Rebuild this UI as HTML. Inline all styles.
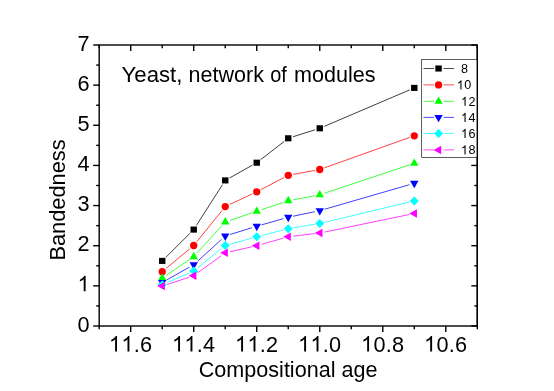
<!DOCTYPE html>
<html><head><meta charset="utf-8"><title>Bandedness</title>
<style>
html,body{margin:0;padding:0;background:#fff;}
body{width:554px;height:391px;overflow:hidden;}
svg{display:block;transform:translateZ(0);will-change:transform;font-family:"Liberation Sans",sans-serif;}
</style></head><body>
<svg width="554" height="391" viewBox="0 0 554 391">
<rect x="0" y="0" width="554" height="391" fill="#ffffff"/>
<g stroke="#000" stroke-width="1.4" fill="none" stroke-linecap="butt">
<rect x="99.2" y="45.0" width="378.1" height="281.0"/>
<line x1="93.2" y1="326.00" x2="99.2" y2="326.00"/>
<line x1="471.3" y1="326.00" x2="477.3" y2="326.00"/>
<line x1="96.2" y1="305.93" x2="99.2" y2="305.93"/>
<line x1="474.3" y1="305.93" x2="477.3" y2="305.93"/>
<line x1="93.2" y1="285.86" x2="99.2" y2="285.86"/>
<line x1="471.3" y1="285.86" x2="477.3" y2="285.86"/>
<line x1="96.2" y1="265.79" x2="99.2" y2="265.79"/>
<line x1="474.3" y1="265.79" x2="477.3" y2="265.79"/>
<line x1="93.2" y1="245.71" x2="99.2" y2="245.71"/>
<line x1="471.3" y1="245.71" x2="477.3" y2="245.71"/>
<line x1="96.2" y1="225.64" x2="99.2" y2="225.64"/>
<line x1="474.3" y1="225.64" x2="477.3" y2="225.64"/>
<line x1="93.2" y1="205.57" x2="99.2" y2="205.57"/>
<line x1="471.3" y1="205.57" x2="477.3" y2="205.57"/>
<line x1="96.2" y1="185.50" x2="99.2" y2="185.50"/>
<line x1="474.3" y1="185.50" x2="477.3" y2="185.50"/>
<line x1="93.2" y1="165.43" x2="99.2" y2="165.43"/>
<line x1="471.3" y1="165.43" x2="477.3" y2="165.43"/>
<line x1="96.2" y1="145.36" x2="99.2" y2="145.36"/>
<line x1="474.3" y1="145.36" x2="477.3" y2="145.36"/>
<line x1="93.2" y1="125.29" x2="99.2" y2="125.29"/>
<line x1="471.3" y1="125.29" x2="477.3" y2="125.29"/>
<line x1="96.2" y1="105.21" x2="99.2" y2="105.21"/>
<line x1="474.3" y1="105.21" x2="477.3" y2="105.21"/>
<line x1="93.2" y1="85.14" x2="99.2" y2="85.14"/>
<line x1="471.3" y1="85.14" x2="477.3" y2="85.14"/>
<line x1="96.2" y1="65.07" x2="99.2" y2="65.07"/>
<line x1="474.3" y1="65.07" x2="477.3" y2="65.07"/>
<line x1="93.2" y1="45.00" x2="99.2" y2="45.00"/>
<line x1="471.3" y1="45.00" x2="477.3" y2="45.00"/>
<line x1="99.20" y1="326.0" x2="99.20" y2="329.3"/>
<line x1="99.20" y1="45.0" x2="99.20" y2="48.3"/>
<line x1="130.71" y1="326.0" x2="130.71" y2="332.0"/>
<line x1="130.71" y1="45.0" x2="130.71" y2="51.0"/>
<line x1="162.22" y1="326.0" x2="162.22" y2="329.3"/>
<line x1="162.22" y1="45.0" x2="162.22" y2="48.3"/>
<line x1="193.73" y1="326.0" x2="193.73" y2="332.0"/>
<line x1="193.73" y1="45.0" x2="193.73" y2="51.0"/>
<line x1="225.23" y1="326.0" x2="225.23" y2="329.3"/>
<line x1="225.23" y1="45.0" x2="225.23" y2="48.3"/>
<line x1="256.74" y1="326.0" x2="256.74" y2="332.0"/>
<line x1="256.74" y1="45.0" x2="256.74" y2="51.0"/>
<line x1="288.25" y1="326.0" x2="288.25" y2="329.3"/>
<line x1="288.25" y1="45.0" x2="288.25" y2="48.3"/>
<line x1="319.76" y1="326.0" x2="319.76" y2="332.0"/>
<line x1="319.76" y1="45.0" x2="319.76" y2="51.0"/>
<line x1="351.27" y1="326.0" x2="351.27" y2="329.3"/>
<line x1="351.27" y1="45.0" x2="351.27" y2="48.3"/>
<line x1="382.78" y1="326.0" x2="382.78" y2="332.0"/>
<line x1="382.78" y1="45.0" x2="382.78" y2="51.0"/>
<line x1="414.28" y1="326.0" x2="414.28" y2="329.3"/>
<line x1="414.28" y1="45.0" x2="414.28" y2="48.3"/>
<line x1="445.79" y1="326.0" x2="445.79" y2="332.0"/>
<line x1="445.79" y1="45.0" x2="445.79" y2="51.0"/>
<line x1="477.30" y1="326.0" x2="477.30" y2="329.3"/>
<line x1="477.30" y1="45.0" x2="477.30" y2="48.3"/>
</g>
<g fill="#000">
<text x="77.53" y="331.50" font-size="21.7">0</text>
<path transform="translate(77.53,291.36) scale(0.01060,-0.01060)" d="M763 0H583V1147Q518 1085 412.5 1023T223 930V1104Q374 1175 487 1276T647 1472H763Z"/>
<text x="77.53" y="251.21" font-size="21.7">2</text>
<text x="77.53" y="211.07" font-size="21.7">3</text>
<text x="77.53" y="170.93" font-size="21.7">4</text>
<text x="77.53" y="130.79" font-size="21.7">5</text>
<text x="77.53" y="90.64" font-size="21.7">6</text>
<text x="77.53" y="50.50" font-size="21.7">7</text>
<path transform="translate(108.92,351.50) scale(0.01060,-0.01060)" d="M763 0H583V1147Q518 1085 412.5 1023T223 930V1104Q374 1175 487 1276T647 1472H763Z"/><path transform="translate(121.32,351.50) scale(0.01060,-0.01060)" d="M763 0H583V1147Q518 1085 412.5 1023T223 930V1104Q374 1175 487 1276T647 1472H763Z"/><text x="133.71" y="351.50" font-size="21.7">.</text><text x="139.90" y="351.50" font-size="21.7">6</text>
<path transform="translate(171.94,351.50) scale(0.01060,-0.01060)" d="M763 0H583V1147Q518 1085 412.5 1023T223 930V1104Q374 1175 487 1276T647 1472H763Z"/><path transform="translate(184.33,351.50) scale(0.01060,-0.01060)" d="M763 0H583V1147Q518 1085 412.5 1023T223 930V1104Q374 1175 487 1276T647 1472H763Z"/><text x="196.72" y="351.50" font-size="21.7">.</text><text x="202.92" y="351.50" font-size="21.7">4</text>
<path transform="translate(234.96,351.50) scale(0.01060,-0.01060)" d="M763 0H583V1147Q518 1085 412.5 1023T223 930V1104Q374 1175 487 1276T647 1472H763Z"/><path transform="translate(247.35,351.50) scale(0.01060,-0.01060)" d="M763 0H583V1147Q518 1085 412.5 1023T223 930V1104Q374 1175 487 1276T647 1472H763Z"/><text x="259.74" y="351.50" font-size="21.7">.</text><text x="265.93" y="351.50" font-size="21.7">2</text>
<path transform="translate(297.97,351.50) scale(0.01060,-0.01060)" d="M763 0H583V1147Q518 1085 412.5 1023T223 930V1104Q374 1175 487 1276T647 1472H763Z"/><path transform="translate(310.37,351.50) scale(0.01060,-0.01060)" d="M763 0H583V1147Q518 1085 412.5 1023T223 930V1104Q374 1175 487 1276T647 1472H763Z"/><text x="322.76" y="351.50" font-size="21.7">.</text><text x="328.95" y="351.50" font-size="21.7">0</text>
<path transform="translate(360.99,351.50) scale(0.01060,-0.01060)" d="M763 0H583V1147Q518 1085 412.5 1023T223 930V1104Q374 1175 487 1276T647 1472H763Z"/><text x="373.38" y="351.50" font-size="21.7">0</text><text x="385.77" y="351.50" font-size="21.7">.</text><text x="391.97" y="351.50" font-size="21.7">8</text>
<path transform="translate(424.01,351.50) scale(0.01060,-0.01060)" d="M763 0H583V1147Q518 1085 412.5 1023T223 930V1104Q374 1175 487 1276T647 1472H763Z"/><text x="436.40" y="351.50" font-size="21.7">0</text><text x="448.79" y="351.50" font-size="21.7">.</text><text x="454.98" y="351.50" font-size="21.7">6</text>
</g>
<g font-size="22.4" lengthAdjust="spacingAndGlyphs"><text x="121.6" y="81.6" textLength="60.8" lengthAdjust="spacingAndGlyphs">Yeast,</text><text x="188.6" y="81.6" textLength="75.3" lengthAdjust="spacingAndGlyphs">network</text><text x="270.2" y="81.6" textLength="16.6" lengthAdjust="spacingAndGlyphs">of</text><text x="294.1" y="81.6" textLength="81.4" lengthAdjust="spacingAndGlyphs">modules</text></g>
<text x="198.8" y="377" font-size="22.3" textLength="178.6" lengthAdjust="spacingAndGlyphs">Compositional age</text>
<text transform="translate(64.7,260.6) rotate(-90)" font-size="22.3" textLength="121.3" lengthAdjust="spacingAndGlyphs">Bandedness</text>
<g stroke="#000000" stroke-width="0.75" fill="none">
<line x1="165.76" y1="257.38" x2="190.18" y2="233.12"/>
<line x1="196.42" y1="225.39" x2="222.54" y2="184.61"/>
<line x1="229.59" y1="177.95" x2="252.38" y2="165.15"/>
<line x1="260.69" y1="159.64" x2="284.30" y2="141.36"/>
<line x1="293.02" y1="136.79" x2="314.99" y2="129.81"/>
<line x1="324.36" y1="126.33" x2="409.69" y2="89.87"/>
</g>
<g>
<rect x="159.02" y="257.85" width="6.4" height="6.1" fill="#000000"/>
<rect x="190.52" y="226.55" width="6.4" height="6.1" fill="#000000"/>
<rect x="222.03" y="177.35" width="6.4" height="6.1" fill="#000000"/>
<rect x="253.54" y="159.65" width="6.4" height="6.1" fill="#000000"/>
<rect x="285.05" y="135.25" width="6.4" height="6.1" fill="#000000"/>
<rect x="316.56" y="125.25" width="6.4" height="6.1" fill="#000000"/>
<rect x="411.08" y="84.85" width="6.4" height="6.1" fill="#000000"/>
</g>
<g stroke="#ff0000" stroke-width="0.75" fill="none">
<line x1="166.06" y1="268.46" x2="189.88" y2="248.69"/>
<line x1="196.87" y1="241.61" x2="222.09" y2="210.49"/>
<line x1="229.76" y1="204.47" x2="252.22" y2="193.93"/>
<line x1="261.17" y1="189.48" x2="283.82" y2="177.62"/>
<line x1="293.17" y1="174.39" x2="314.84" y2="170.41"/>
<line x1="324.47" y1="167.82" x2="409.57" y2="137.48"/>
</g>
<g>
<circle cx="162.22" cy="271.65" r="3.65" fill="#ff0000"/>
<circle cx="193.72" cy="245.50" r="3.65" fill="#ff0000"/>
<circle cx="225.23" cy="206.60" r="3.65" fill="#ff0000"/>
<circle cx="256.74" cy="191.80" r="3.65" fill="#ff0000"/>
<circle cx="288.25" cy="175.30" r="3.65" fill="#ff0000"/>
<circle cx="319.76" cy="169.50" r="3.65" fill="#ff0000"/>
<circle cx="414.28" cy="135.80" r="3.65" fill="#ff0000"/>
</g>
<g stroke="#00ff00" stroke-width="0.75" fill="none">
<line x1="166.36" y1="275.25" x2="189.59" y2="259.50"/>
<line x1="197.08" y1="252.99" x2="221.88" y2="225.61"/>
<line x1="229.97" y1="220.31" x2="252.00" y2="212.89"/>
<line x1="261.48" y1="209.71" x2="283.51" y2="202.34"/>
<line x1="293.16" y1="199.82" x2="314.85" y2="195.73"/>
<line x1="324.50" y1="193.22" x2="409.54" y2="164.88"/>
</g>
<g>
<polygon points="162.22,273.15 166.42,280.55 158.02,280.55" fill="#00ff00"/>
<polygon points="193.72,251.80 197.92,259.20 189.52,259.20" fill="#00ff00"/>
<polygon points="225.23,217.00 229.43,224.40 221.03,224.40" fill="#00ff00"/>
<polygon points="256.74,206.40 260.94,213.80 252.54,213.80" fill="#00ff00"/>
<polygon points="288.25,195.85 292.45,203.25 284.05,203.25" fill="#00ff00"/>
<polygon points="319.76,189.90 323.96,197.30 315.56,197.30" fill="#00ff00"/>
<polygon points="414.28,158.40 418.48,165.80 410.08,165.80" fill="#00ff00"/>
</g>
<g stroke="#0000ff" stroke-width="0.75" fill="none">
<line x1="166.58" y1="280.00" x2="189.37" y2="267.20"/>
<line x1="197.42" y1="261.38" x2="221.54" y2="239.37"/>
<line x1="230.01" y1="234.52" x2="251.97" y2="227.73"/>
<line x1="261.55" y1="224.88" x2="283.44" y2="218.62"/>
<line x1="293.14" y1="216.22" x2="314.86" y2="211.68"/>
<line x1="324.56" y1="209.26" x2="409.48" y2="184.69"/>
</g>
<g>
<polygon points="162.22,287.35 166.42,279.95 158.02,279.95" fill="#0000ff"/>
<polygon points="193.72,269.65 197.92,262.25 189.52,262.25" fill="#0000ff"/>
<polygon points="225.23,240.90 229.43,233.50 221.03,233.50" fill="#0000ff"/>
<polygon points="256.74,231.15 260.94,223.75 252.54,223.75" fill="#0000ff"/>
<polygon points="288.25,222.15 292.45,214.75 284.05,214.75" fill="#0000ff"/>
<polygon points="319.76,215.55 323.96,208.15 315.56,208.15" fill="#0000ff"/>
<polygon points="414.28,188.20 418.48,180.80 410.08,180.80" fill="#0000ff"/>
</g>
<g stroke="#00ffff" stroke-width="0.75" fill="none">
<line x1="166.81" y1="282.67" x2="189.13" y2="273.08"/>
<line x1="197.61" y1="267.95" x2="221.35" y2="248.65"/>
<line x1="230.05" y1="244.17" x2="251.92" y2="238.13"/>
<line x1="261.59" y1="235.56" x2="283.41" y2="229.99"/>
<line x1="293.18" y1="227.92" x2="314.83" y2="224.28"/>
<line x1="324.62" y1="222.29" x2="409.42" y2="202.06"/>
</g>
<g>
<polygon points="157.72,284.65 162.22,280.15 166.72,284.65 162.22,289.15" fill="#00ffff"/>
<polygon points="189.22,271.10 193.72,266.60 198.22,271.10 193.72,275.60" fill="#00ffff"/>
<polygon points="220.73,245.50 225.23,241.00 229.73,245.50 225.23,250.00" fill="#00ffff"/>
<polygon points="252.24,236.80 256.74,232.30 261.24,236.80 256.74,241.30" fill="#00ffff"/>
<polygon points="283.75,228.75 288.25,224.25 292.75,228.75 288.25,233.25" fill="#00ffff"/>
<polygon points="315.26,223.45 319.76,218.95 324.26,223.45 319.76,227.95" fill="#00ffff"/>
<polygon points="409.78,200.90 414.28,196.40 418.78,200.90 414.28,205.40" fill="#00ffff"/>
</g>
<g stroke="#ff00ff" stroke-width="0.75" fill="none">
<line x1="166.96" y1="284.53" x2="188.98" y2="277.27"/>
<line x1="197.77" y1="272.76" x2="221.19" y2="255.79"/>
<line x1="230.11" y1="251.74" x2="251.87" y2="246.81"/>
<line x1="261.55" y1="244.33" x2="283.44" y2="238.12"/>
<line x1="293.22" y1="236.17" x2="314.79" y2="233.63"/>
<line x1="324.65" y1="232.04" x2="409.39" y2="214.51"/>
</g>
<g>
<polygon points="157.22,286.10 164.87,281.85 164.87,290.35" fill="#ff00ff"/>
<polygon points="188.72,275.70 196.37,271.45 196.37,279.95" fill="#ff00ff"/>
<polygon points="220.23,252.85 227.88,248.60 227.88,257.10" fill="#ff00ff"/>
<polygon points="251.74,245.70 259.39,241.45 259.39,249.95" fill="#ff00ff"/>
<polygon points="283.25,236.75 290.90,232.50 290.90,241.00" fill="#ff00ff"/>
<polygon points="314.76,233.05 322.41,228.80 322.41,237.30" fill="#ff00ff"/>
<polygon points="409.28,213.50 416.93,209.25 416.93,217.75" fill="#ff00ff"/>
</g>
<rect x="421.7" y="59.5" width="55.6" height="97.9" fill="#fff" stroke="#000" stroke-width="0.64"/>
<g fill="#000">
<g stroke="#000000" stroke-width="0.7"><line x1="423.5" y1="68.5" x2="434" y2="68.5"/><line x1="443.6" y1="68.5" x2="454" y2="68.5"/></g>
<rect x="435.35" y="65.45" width="6.4" height="6.1" fill="#000000"/>
<text x="461.00" y="73.00" font-size="12.6">8</text>
<g stroke="#ff0000" stroke-width="0.7"><line x1="423.5" y1="84.9" x2="434" y2="84.9"/><line x1="443.6" y1="84.9" x2="454" y2="84.9"/></g>
<circle cx="438.55" cy="84.90" r="3.65" fill="#ff0000"/>
<path transform="translate(456.80,89.40) scale(0.00615,-0.00615)" d="M763 0H583V1147Q518 1085 412.5 1023T223 930V1104Q374 1175 487 1276T647 1472H763Z"/><text x="464.36" y="89.40" font-size="12.6">0</text>
<g stroke="#00ff00" stroke-width="0.7"><line x1="423.5" y1="101.35" x2="434" y2="101.35"/><line x1="443.6" y1="101.35" x2="454" y2="101.35"/></g>
<polygon points="438.55,96.45 442.75,103.85 434.35,103.85" fill="#00ff00"/>
<path transform="translate(460.90,105.85) scale(0.00615,-0.00615)" d="M763 0H583V1147Q518 1085 412.5 1023T223 930V1104Q374 1175 487 1276T647 1472H763Z"/><text x="468.46" y="105.85" font-size="12.6">2</text>
<g stroke="#0000ff" stroke-width="0.7"><line x1="423.5" y1="117.4" x2="434" y2="117.4"/><line x1="443.6" y1="117.4" x2="454" y2="117.4"/></g>
<polygon points="438.55,122.30 442.75,114.90 434.35,114.90" fill="#0000ff"/>
<path transform="translate(460.90,121.90) scale(0.00615,-0.00615)" d="M763 0H583V1147Q518 1085 412.5 1023T223 930V1104Q374 1175 487 1276T647 1472H763Z"/><text x="468.46" y="121.90" font-size="12.6">4</text>
<g stroke="#00ffff" stroke-width="0.7"><line x1="423.5" y1="133.4" x2="434" y2="133.4"/><line x1="443.6" y1="133.4" x2="454" y2="133.4"/></g>
<polygon points="434.05,133.40 438.55,128.90 443.05,133.40 438.55,137.90" fill="#00ffff"/>
<path transform="translate(460.90,137.90) scale(0.00615,-0.00615)" d="M763 0H583V1147Q518 1085 412.5 1023T223 930V1104Q374 1175 487 1276T647 1472H763Z"/><text x="468.46" y="137.90" font-size="12.6">6</text>
<g stroke="#ff00ff" stroke-width="0.7"><line x1="423.5" y1="149.9" x2="434" y2="149.9"/><line x1="443.6" y1="149.9" x2="454" y2="149.9"/></g>
<polygon points="433.55,149.90 441.20,145.65 441.20,154.15" fill="#ff00ff"/>
<path transform="translate(460.90,154.40) scale(0.00615,-0.00615)" d="M763 0H583V1147Q518 1085 412.5 1023T223 930V1104Q374 1175 487 1276T647 1472H763Z"/><text x="468.46" y="154.40" font-size="12.6">8</text>
</g>
<line x1="477.3" y1="45.0" x2="477.3" y2="326.0" stroke="#000" stroke-width="1.4"/>
</svg>
</body></html>
